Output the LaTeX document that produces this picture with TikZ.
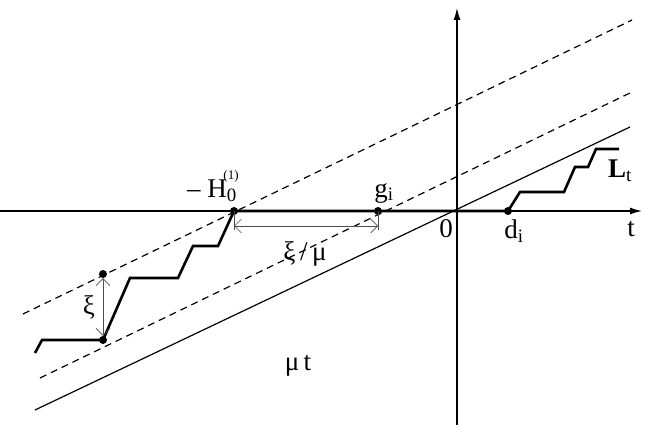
\documentclass[tikz,border=0pt]{standalone}
\usepackage{fontspec}
\setmainfont{Liberation Serif}
\usetikzlibrary{arrows.meta}
\begin{document}
\begin{tikzpicture}[x=1pt,y=-1pt,
  thin line/.style={line width=1.2pt},
  dashline/.style={line width=1.2pt,dash pattern=on 7pt off 5pt},
  path line/.style={line width=2.6pt,line join=miter},
  dot/.style={circle,fill,inner sep=0pt,minimum size=8pt},
  lbl/.style={font=\fontsize{27}{30}\selectfont,inner sep=1pt},
  sup/.style={font=\fontsize{13}{14}\selectfont,inner sep=0pt},
  gray arrow/.style={gray!60!black,line width=0.7pt,{Straight Barb[length=7pt]}-{Straight Barb[length=7pt]}}]
\useasboundingbox (0,0) rectangle (654,436);
% axes
\coordinate (xl) at (0,211); \coordinate (xr) at (642,211);
\coordinate (yb) at (457,425); \coordinate (yt) at (457,8);
\draw[thin line,-{Latex[length=12pt,width=7pt]}] (xl) -- (xr);
\draw[thin line,-{Latex[length=12pt,width=7pt]}] (yb) -- (yt);
% lines
\coordinate (s1) at (35,410); \coordinate (s2) at (630,127);
\draw[thin line] (s1) -- (s2);
\coordinate (u1) at (23,314); \coordinate (u2) at (632,20);
\draw[dashline] (u1) -- (u2);
\coordinate (l1) at (40,378); \coordinate (l2) at (632,92);
\draw[dashline] (l1) -- (l2);
% points
\node[dot] (P) at (103,340) {};
\node[dot] (Q) at (103,274) {};
\node[dot] (H) at (234,211) {};
\node[dot] (G) at (378,211) {};
\node[dot] (D) at (508,211) {};
% staircase
\draw[path line] (35,353) -- (42,340) -- (P.center) -- (130,278) -- (178,278) -- (193,246) -- (218,246) -- (H.center) -- (D.center) -- (520,192) -- (564,192) -- (575,167) -- (588,167) -- (596,149) -- (619,149);
% xi arrows
\draw[gray arrow] (P) -- (Q);
\coordinate (a1) at (234,226); \coordinate (a2) at (378,226);
\draw[gray arrow] (a1) -- (a2);
\draw[gray!60!black,line width=0.7pt] (234,211) -- (234,230) (378,211) -- (378,230);
% labels
\node[lbl] (xi) at (89,307) {ξ};
\node[lbl] (xm) at (305,254) {ξ\,/\,μ};
\node[lbl] (mt) at (298,366) {μ\,t};
\node[lbl] (Hl) at (212,191) {– H\textsubscript{0}};
\node[sup] (Hs) at (231,176) {(1)};
\node[lbl] (gl) at (384,193) {g\textsubscript{i}};
\node[lbl] (zl) at (446,229) {0};
\node[lbl] (dl) at (514,231) {d\textsubscript{i}};
\node[lbl] (tl) at (631,229) {t};
\node[lbl] (Ll) at (620,171) {\textbf{L}\textsubscript{t}};
\end{tikzpicture}
\end{document}
